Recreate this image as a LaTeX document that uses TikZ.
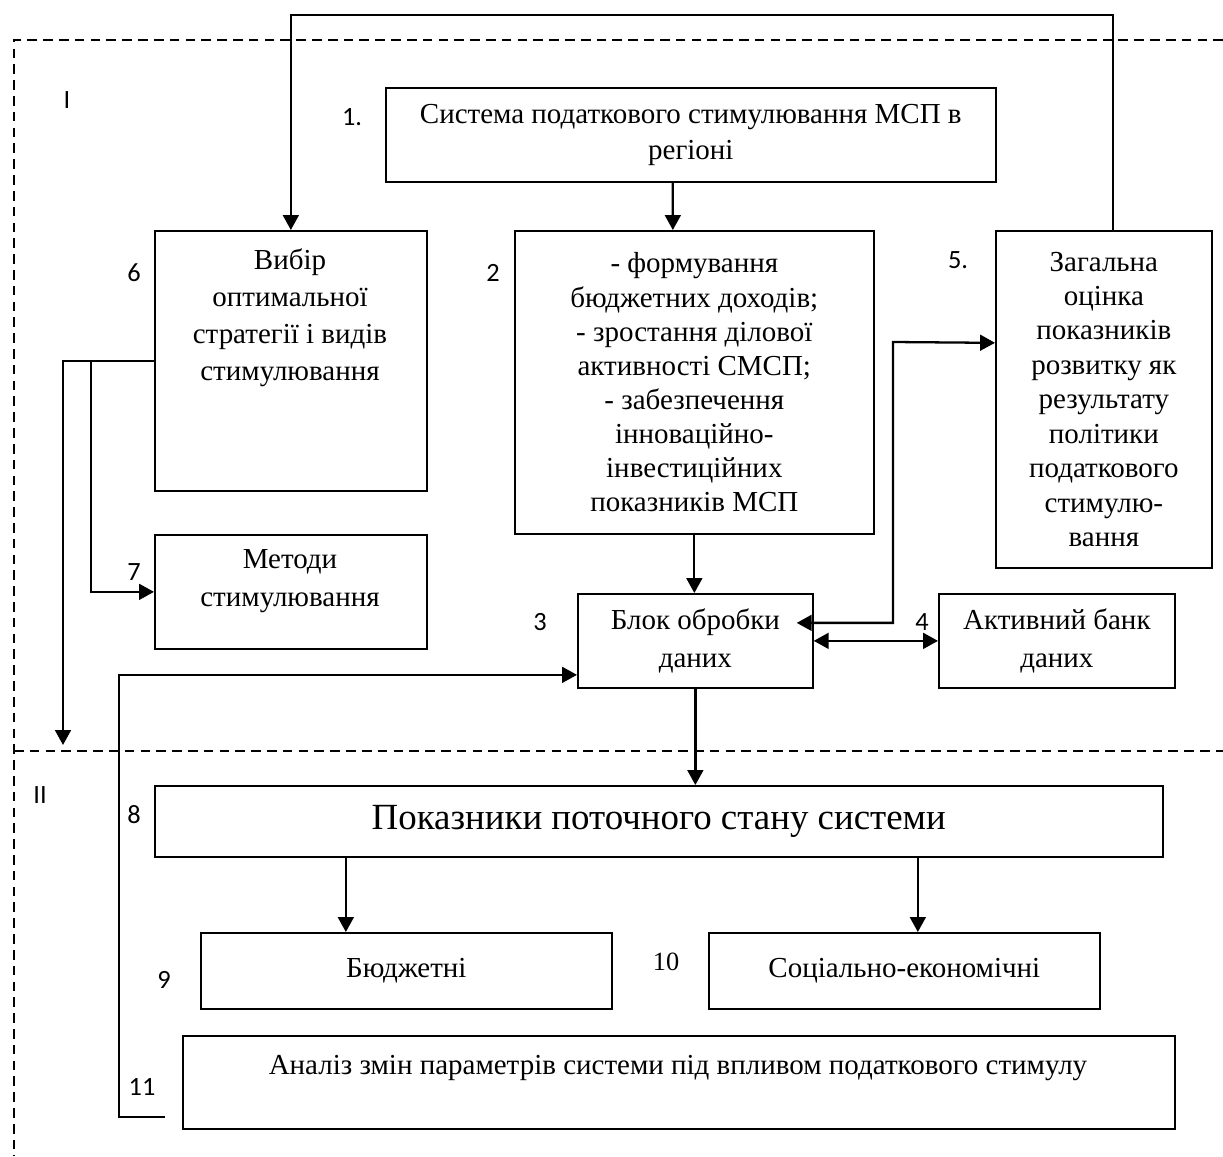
\documentclass[tikz,border=0pt]{standalone}
\usepackage{fontspec}
\setmainfont{Liberation Serif}
\newfontfamily\numfont{Carlito}
\usetikzlibrary{arrows.meta}

\begin{document}
\begin{tikzpicture}[
	x=0.02cm,
	y=-0.02cm,
	blk/.style={rectangle,draw,line width=1pt,anchor=north west,inner sep=0pt,align=center,font=\fontsize{16.5}{21.5}\selectfont},
	txt/.style={align=center,inner sep=0pt,font=\fontsize{16.5}{21.5}\selectfont},
	num/.style={inner sep=0pt,font=\numfont\fontsize{15}{17}\selectfont},
	arr/.style={line width=1.3pt,-{Triangle[length=8.5pt,width=9pt]}},
	dblarr/.style={line width=1.3pt,{Triangle[length=8.5pt,width=9pt]}-{Triangle[length=8.5pt,width=9pt]}},
	zone/.style={line width=0.8pt,dash pattern=on 5.5pt off 3.5pt}
]
	\useasboundingbox (0,0) rectangle (1223,1156);

	\draw[zone] (1223,40) -- (14,40) -- (14,1156);
	\draw[zone] (14,751) -- (1223,751);
	\node[num] (zI) at (67,100) {I};
	\node[num] (zII) at (40,795) {II};

	\node[blk,minimum width=12.2cm,minimum height=1.88cm,font=\fontsize{16.5}{20.5}\selectfont] (b1) at (385,87) {Система податкового стимулювання МСП в\\регіоні};
	\node[blk,minimum width=5.44cm,minimum height=5.2cm] (b6) at (154,230) {};
	\node[txt,font=\fontsize{16.5}{21}\selectfont] (t6) at (290,318) {Вибір\\оптимальної\\стратегії і видів\\стимулювання};
	\node[blk,minimum width=7.18cm,minimum height=6.06cm,font=\fontsize{16.5}{19.4}\selectfont] (b2) at (514,230) {- формування\\бюджетних доходів;\\- зростання ділової\\активності СМСП;\\- забезпечення\\інноваційно-\\інвестиційних\\показників МСП};
	\node[blk,minimum width=4.32cm,minimum height=6.74cm,font=\fontsize{16.5}{19.6}\selectfont] (b5) at (995,230) {Загальна\\оцінка\\показників\\розвитку як\\результату\\політики\\податкового\\стимулю-\\вання};
	\node[blk,minimum width=5.44cm,minimum height=2.28cm] (b7) at (154,534) {};
	\node[txt] (t7) at (290,581) {Методи\\стимулювання};
	\node[blk,minimum width=4.7cm,minimum height=1.88cm] (b3) at (577,593) {Блок обробки\\даних};
	\node[blk,minimum width=4.72cm,minimum height=1.88cm] (b4) at (938,593) {Активний банк\\даних};
	\node[blk,minimum width=20.16cm,minimum height=1.42cm,font=\fontsize{21}{25}\selectfont] (b8) at (154,785) {Показники поточного стану системи};
	\node[blk,minimum width=8.22cm,minimum height=1.52cm] (b9) at (200,932) {Бюджетні};
	\node[blk,minimum width=7.82cm,minimum height=1.52cm] (b10) at (708,932) {Соціально-економічні};
	\node[blk,minimum width=19.84cm,minimum height=1.86cm] (b11) at (182,1035) {};
	\node[txt] (t11) at (678,1068) {Аналіз змін параметрів системи під впливом податкового стимулу};

	\node[num] (n1) at (352,117) {1.};
	\node[num] (n2) at (493,273) {2};
	\node[num] (n3) at (540,622) {3};
	\node[num] (n4) at (922,622) {4};
	\node[num] (n5) at (958,260) {5.};
	\node[num] (n6) at (134,273) {6};
	\node[num] (n7) at (134,572) {7};
	\node[num] (n8) at (134,815) {8};
	\node[num] (n9) at (164,980) {9};
	\node[inner sep=0pt,font=\fontsize{15}{17}\selectfont] (n10) at (666,962) {10};
	\node[num] (n11) at (142,1087) {11};

	% connectors
	\draw[arr] ([xshift=0.18cm]b5.north) -- ++(0,-215) -| (b6.north);
	\draw[arr] ([xshift=-0.36cm]b1.south) -- ([xshift=-0.43cm]b2.north);
	\draw[arr] (b2.south) -- (b2.south |- b3.north);
	\draw[dblarr] ([xshift=-0.34cm,yshift=0.36cm]b3.east) -| (893,342) -- ([yshift=1.13cm]b5.west);
	\draw[dblarr] (b3.east) -- (b4.west);
	\draw[arr] (b3.south) -- (b3.south |- b8.north);
	\coordinate (down6) at (63,745);
	\coordinate (fork7) at (91,360);
	\draw[arr] (b6.west) -| (down6);
	\draw[arr] (fork7) |- (b7.west);
	\coordinate (in9) at ([xshift=-1.21cm]b9.north);
	\coordinate (in10) at ([xshift=0.27cm]b10.north);
	\draw[arr] (in9 |- b8.south) -- (in9);
	\draw[arr] (in10 |- b8.south) -- (in10);
	\draw[arr] ([xshift=-0.34cm,yshift=0.26cm]b11.south west) -- ++(-46,0) |- ([yshift=-0.68cm]b3.west);
\end{tikzpicture}
\end{document}
